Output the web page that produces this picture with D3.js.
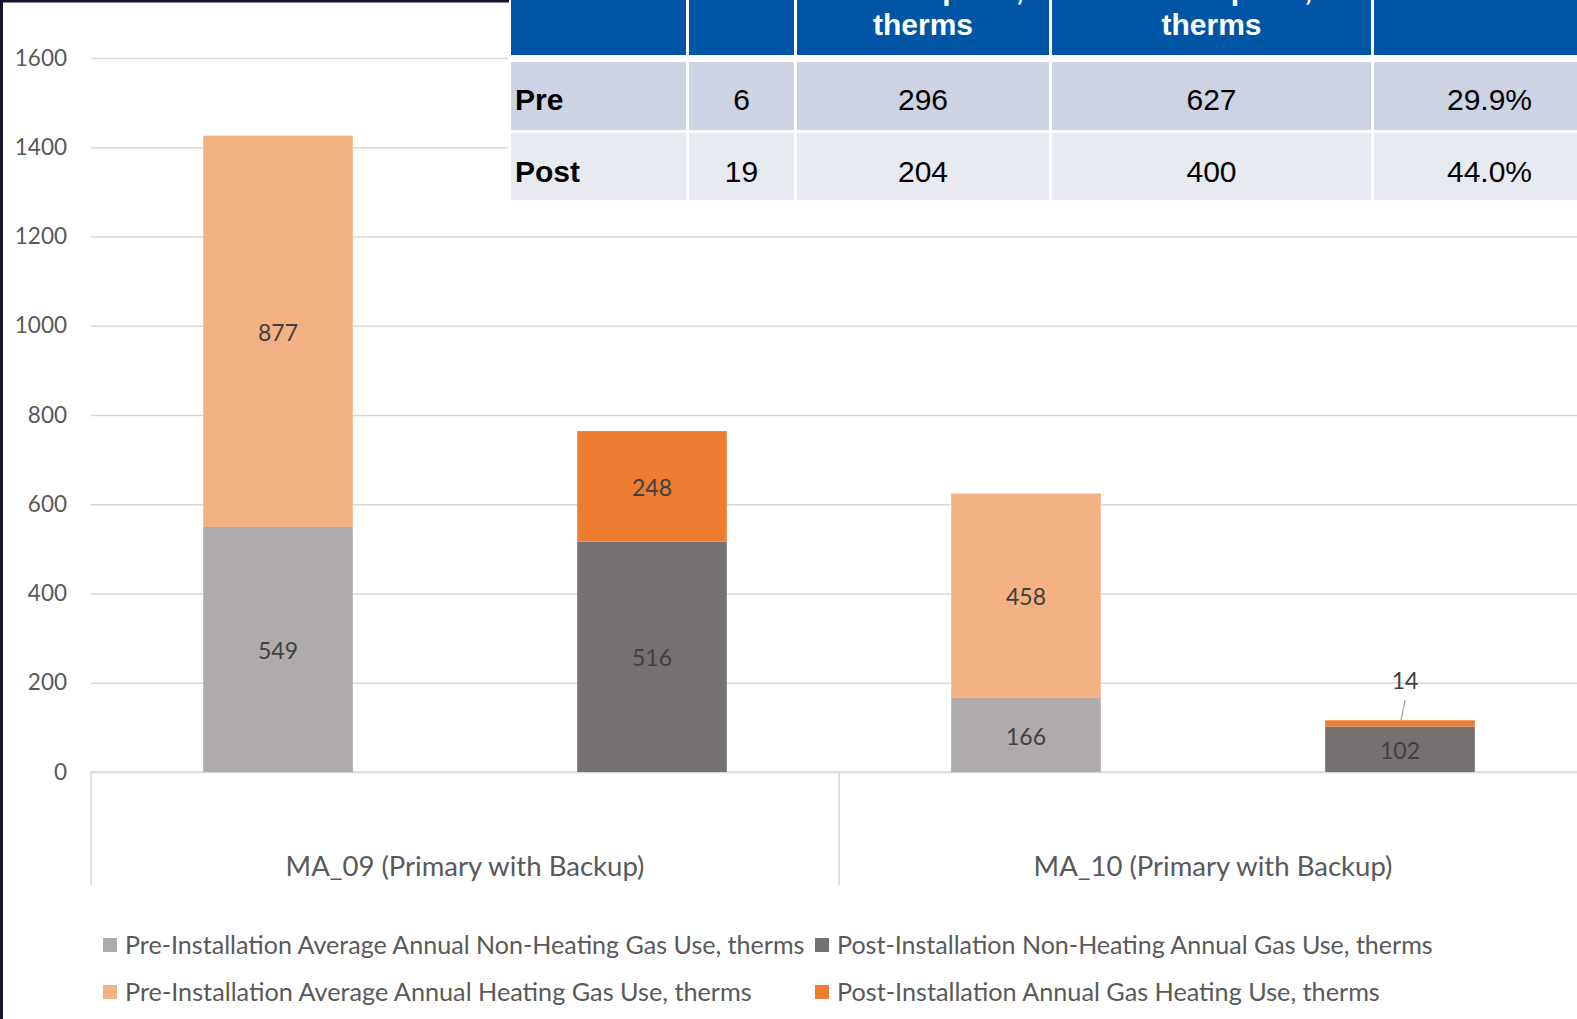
<!DOCTYPE html>
<html><head><meta charset="utf-8">
<script src="https://cdn.jsdelivr.net/npm/d3@7"></script>
<style>html,body{margin:0;padding:0;background:#fff;overflow:hidden}</style>
</head><body>
<svg id="c" width="1577" height="1019"></svg>
<script>
// ---------- data ----------
const categories = ["MA_09 (Primary with Backup)", "MA_10 (Primary with Backup)"];
const phases = ["Pre", "Post"];
const preNonHeating  = [549, 166];
const preHeating     = [877, 458];
const postNonHeating = [516, 102];
const postHeating    = [248, 14];
const yTicks = [0, 200, 400, 600, 800, 1000, 1200, 1400, 1600];
const legendLabels = [
  "Pre-Installation Average Annual Non-Heating Gas Use, therms",
  "Post-Installation Non-Heating Annual Gas Use, therms",
  "Pre-Installation Average Annual Heating Gas Use, therms",
  "Post-Installation Annual Gas Heating Use, therms"
];
const tableHeaderTop = ["", "", "Consumption,", "Consumption,", ""];
const tableHeader = ["", "", "therms", "therms", ""];
const tableRowLabels = ["Pre", "Post"];
const tableOccupants = ["6", "19"];
const tableNonHeating = ["296", "204"];
const tableHeating = ["627", "400"];
const tablePercent = ["29.9%", "44.0%"];

(function () {
// ---------- setup ----------
const svg = d3.select("#c");
const W = 1577, H = 1019;
const pLeft = 91, pRight = 1587, pTop = 58, pBase = 772;
const y = d3.scaleLinear().domain([0, 1600]).range([pBase, pTop]);
const x0 = d3.scaleBand().domain(categories).range([pLeft, pRight]);
const x1 = d3.scaleBand().domain(phases).range([0, x0.bandwidth()]).paddingInner(0.6).paddingOuter(0.3);

const colors = {
  Pre:  {nonHeat: "#AFABAB", heat: "#F4B183"},
  Post: {nonHeat: "#767171", heat: "#ED7D31"}
};
const FONT = "Lato, 'Open Sans', sans-serif";

svg.append("rect").attr("width", W).attr("height", H).attr("fill", "#fff");

// gridlines + y axis
const yAxis = d3.axisLeft(y).tickValues(yTicks).tickSize(-(pRight - pLeft)).tickPadding(24).tickFormat(d3.format("d"));
const ga = svg.append("g").attr("transform", `translate(${pLeft},0)`).call(yAxis);
ga.select(".domain").remove();
ga.selectAll(".tick line").attr("stroke", "#D9D9D9").attr("stroke-width", 1.6);
ga.selectAll(".tick text").attr("fill", "#595959").attr("font-family", FONT).attr("font-size", 22.5);

// category axis (multi-level style)
const axisG = svg.append("g");
axisG.append("line").attr("x1", pLeft).attr("x2", pRight).attr("y1", y(0)).attr("y2", y(0))
  .attr("stroke", "#D9D9D9").attr("stroke-width", 1.6);
const edges = categories.map(c => x0(c)).concat([x0(categories[categories.length - 1]) + x0.bandwidth()]);
axisG.selectAll("line.sep").data(edges).join("line").attr("class", "sep")
  .attr("x1", d => d).attr("x2", d => d).attr("y1", y(0)).attr("y2", 885)
  .attr("stroke", "#D9D9D9").attr("stroke-width", 1.6);

function fit(sel, target) {
  sel.each(function () {
    const n = d3.select(this);
    const w = this.getComputedTextLength();
    const fs = parseFloat(n.attr("font-size"));
    if (w > 0) n.attr("font-size", fs * target / w);
  });
}

axisG.selectAll("text.cat").data(categories).join("text").attr("class", "cat")
  .attr("x", d => x0(d) + x0.bandwidth() / 2).attr("y", 866).attr("dy", "0.35em")
  .attr("text-anchor", "middle").attr("fill", "#595959").attr("font-family", FONT).attr("font-size", 24)
  .text(d => d)
  .call(s => fit(s, 359));

// ---------- bars ----------
const rows = [];
categories.forEach((c, i) => {
  rows.push({cat: c, phase: "Pre", nonHeat: preNonHeating[i], heat: preHeating[i]});
  rows.push({cat: c, phase: "Post", nonHeat: postNonHeating[i], heat: postHeating[i]});
});
const stack = d3.stack().keys(["nonHeat", "heat"]);
const stacked = stack(rows);

const barG = svg.append("g");
stacked.forEach(layer => {
  const key = layer.key;
  barG.selectAll(null).data(layer).join("rect")
    .attr("x", d => x0(d.data.cat) + x1(d.data.phase))
    .attr("width", x1.bandwidth())
    .attr("y", d => y(d[1]))
    .attr("height", d => y(d[0]) - y(d[1]))
    .attr("fill", d => colors[d.data.phase][key]);
});

// value labels
const labelG = svg.append("g").attr("font-family", FONT).attr("fill", "#404040").attr("font-size", 23).attr("text-anchor", "middle");
stacked.forEach(layer => {
  layer.forEach(d => {
    const v = d[1] - d[0];
    const cx = x0(d.data.cat) + x1(d.data.phase) + x1.bandwidth() / 2;
    const segH = y(d[0]) - y(d[1]);
    if (segH > 24) {
      labelG.append("text").attr("x", cx).attr("y", y((d[0] + d[1]) / 2) + 1.5).attr("dy", "0.35em").text(v);
    } else {
      labelG.append("text").attr("x", cx + 5).attr("y", y(d[1]) - 39).attr("dy", "0.35em").text(v);
      labelG.append("line").attr("x1", cx + 5).attr("y1", y(d[1]) - 20).attr("x2", cx + 1).attr("y2", y(d[1]))
        .attr("stroke", "#A6A6A6").attr("stroke-width", 1.3);
    }
  });
});

// ---------- legend ----------
const legendItems = [
  {label: legendLabels[0], color: colors.Pre.nonHeat, x: 103, y: 945, w: 680},
  {label: legendLabels[1], color: colors.Post.nonHeat, x: 815, y: 945, w: 596},
  {label: legendLabels[2], color: colors.Pre.heat, x: 103, y: 992, w: 627},
  {label: legendLabels[3], color: colors.Post.heat, x: 815, y: 992, w: 543}
];
const lg = svg.append("g");
legendItems.forEach(it => {
  lg.append("rect").attr("x", it.x).attr("y", it.y - 7).attr("width", 14).attr("height", 14).attr("fill", it.color);
  lg.append("text").attr("x", it.x + 22).attr("y", it.y).attr("dy", "0.35em")
    .attr("font-family", FONT).attr("font-size", 23).attr("fill", "#595959")
    .text(it.label).call(s => fit(s, it.w));
});

// ---------- table overlay ----------
const TFONT = "'Liberation Sans', Arial, sans-serif";
const colEdges = [[511, 686], [689, 794], [797, 1049], [1052, 1371], [1374, 1605]];
const rowEdges = [[-5, 55], [62, 130], [133, 200]];
const rowTextY = [99, 171];
const rowFills = ["#0055A5", "#CDD3E3", "#E8EAF1"];
const tg = svg.append("g");
tg.append("rect").attr("x", 508).attr("y", 0).attr("width", W - 508).attr("height", 202).attr("fill", "#fff");
rowEdges.forEach((r, ri) => {
  colEdges.forEach(c => {
    tg.append("rect").attr("x", c[0]).attr("y", r[0]).attr("width", c[1] - c[0]).attr("height", r[1] - r[0]).attr("fill", rowFills[ri]);
  });
});
colEdges.forEach((c, ci) => {
  const cx = (c[0] + c[1]) / 2;
  if (tableHeader[ci]) tg.append("text").attr("x", cx).attr("y", 24).attr("dy", "0.35em").attr("text-anchor", "middle")
    .attr("font-family", TFONT).attr("font-weight", "bold").attr("font-size", 30).attr("fill", "#fff").text(tableHeader[ci]);
  if (tableHeaderTop[ci]) tg.append("text").attr("x", cx).attr("y", -11).attr("dy", "0.35em").attr("text-anchor", "middle")
    .attr("font-family", TFONT).attr("font-weight", "bold").attr("font-size", 30).attr("fill", "#fff").text(tableHeaderTop[ci]);
});
const bodyCols = [tableOccupants, tableNonHeating, tableHeating, tablePercent];
tableRowLabels.forEach((lab, ri) => {
  const cy = rowTextY[ri];
  tg.append("text").attr("x", 515).attr("y", cy).attr("dy", "0.35em")
    .attr("font-family", TFONT).attr("font-weight", "bold").attr("font-size", 30).attr("fill", "#000").text(lab);
  bodyCols.forEach((col, k) => {
    const c = colEdges[k + 1];
    tg.append("text").attr("x", (c[0] + c[1]) / 2).attr("y", cy).attr("dy", "0.35em").attr("text-anchor", "middle")
      .attr("font-family", TFONT).attr("font-size", 30).attr("fill", "#000").text(col[ri]);
  });
});

// ---------- slide frame ----------
svg.append("rect").attr("x", 0).attr("y", 0).attr("width", 3).attr("height", H).attr("fill", "#13132B");
svg.append("rect").attr("x", 0).attr("y", 0).attr("width", 509).attr("height", 2.5).attr("fill", "#13132B");
})();
</script>
</body></html>
